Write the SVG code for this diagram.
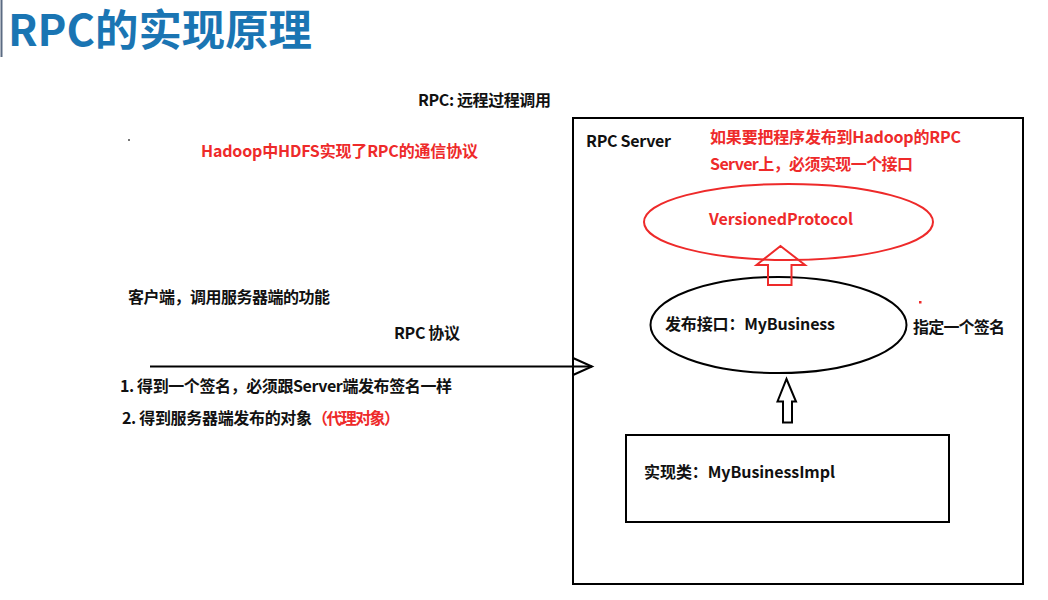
<svg xmlns="http://www.w3.org/2000/svg" width="1048" height="600" viewBox="0 0 1048 600">
<style>
text{font-family:"Noto Sans CJK SC","Microsoft YaHei",sans-serif;font-weight:bold;font-size:16px;fill:#111}
.red{fill:#ee2a2a}
.title{font-size:43px;fill:#1a75b3}
.blk{fill:none;stroke:#000;stroke-width:2}
.rd{fill:none;stroke:#ee2a2a;stroke-width:2}
</style>
<rect width="1048" height="600" fill="#fff"/>
<line x1="1.5" y1="0" x2="1.5" y2="57" stroke="#5b6b82" stroke-width="2"/>
<text class="title" x="8" y="46" textLength="304" lengthAdjust="spacingAndGlyphs">RPC的实现原理</text>
<rect x="128" y="139" width="2" height="2" fill="#777"/>
<text x="418" y="106" textLength="133">RPC: 远程过程调用</text>
<text class="red" x="201" y="157" textLength="277">Hadoop中HDFS实现了RPC的通信协议</text>
<text x="128" y="303" textLength="202">客户端，调用服务器端的功能</text>
<text x="394" y="339" textLength="66">RPC 协议</text>
<text x="120" y="392" textLength="332">1. 得到一个签名，必须跟Server端发布签名一样</text>
<text x="122" y="424" textLength="190">2. 得到服务器端发布的对象</text>
<text class="red" x="312" y="424" textLength="88">（代理对象）</text>
<g id="server">
<rect class="blk" x="573" y="118" width="450" height="466"/>
<text x="586" y="147" textLength="85">RPC Server</text>
<text class="red" x="710" y="143" textLength="251">如果要把程序发布到Hadoop的RPC</text>
<text class="red" x="710" y="170" textLength="203">Server上，必须实现一个接口</text>
</g>
<g id="versioned">
<ellipse class="rd" cx="788.5" cy="222" rx="144.5" ry="38"/>
<text class="red" x="709" y="225" textLength="144">VersionedProtocol</text>
</g>
<g id="mybusiness">
<ellipse class="blk" cx="778.5" cy="325" rx="128" ry="48"/>
<text x="665" y="330" textLength="170">发布接口：MyBusiness</text>
</g>
<text x="913" y="333" textLength="92">指定一个签名</text>
<rect x="919" y="301" width="2.5" height="2.5" fill="#ee2a2a"/>
<g id="impl">
<rect class="blk" x="626" y="435" width="323" height="87"/>
<text x="644" y="478" textLength="191">实现类：MyBusinessImpl</text>
</g>
<g id="connectors">
<line x1="150" y1="366.5" x2="592" y2="366.5" stroke="#000" stroke-width="2"/>
<polyline points="573,358 592,366.5 573,375" fill="none" stroke="#000" stroke-width="2"/>
<polygon class="rd" points="780.5,246 805,265 791.5,265 791.5,285 768,285 768,265 756.5,265"/>
<polygon class="blk" points="786.5,379 796,401.5 792,401.5 792,422.5 783,422.5 783,401.5 777.5,401.5"/>
</g>
</svg>
